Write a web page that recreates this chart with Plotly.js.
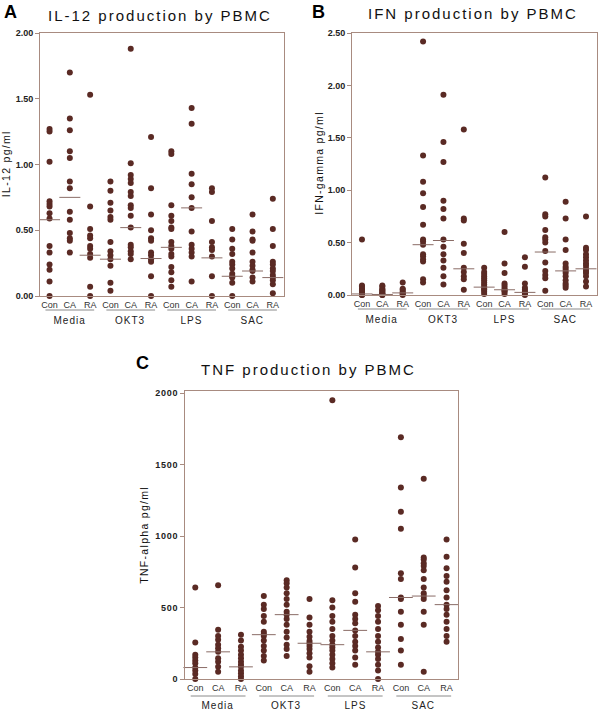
<!DOCTYPE html>
<html><head><meta charset="utf-8">
<script src="https://cdn.plot.ly/plotly-3.0.1.min.js"></script>
<style>
body{margin:0;background:#fff}
#chart{width:600px;height:710px}
g.annotation text{letter-spacing:1px}
g.annotation[data-index="0"] text,g.annotation[data-index="1"] text,g.annotation[data-index="2"] text{letter-spacing:2px}
g.annotation[data-index="3"] text,g.annotation[data-index="4"] text,g.annotation[data-index="5"] text{letter-spacing:0}
g.annotation[data-index="6"] text,g.annotation[data-index="7"] text,g.annotation[data-index="8"] text{letter-spacing:1.3px}
.y3tick text{letter-spacing:.7px}
</style></head><body><div id="chart"></div><script>
// ---------- data ----------
const categories = ['Con', 'CA', 'RA'];
const groups = ['Media', 'OKT3', 'LPS', 'SAC'];

// IL-12 (pg/ml), each group: [Con, CA, RA]
const il12Media = [
  [1.27,1.25,1.02,0.72,0.70,0.68,0.63,0.59,0.38,0.33,0.24,0.20,0.11,0.00],
  [1.70,1.35,1.26,1.10,1.05,0.87,0.82,0.64,0.58,0.48,0.44,0.42,0.33],
  [1.53,0.68,0.51,0.46,0.44,0.38,0.36,0.32,0.29,0.07,0.00]
];
const il12OKT3 = [
  [0.87,0.80,0.71,0.65,0.60,0.58,0.41,0.34,0.31,0.28,0.23,0.10,0.04],
  [1.88,1.01,0.92,0.89,0.86,0.79,0.76,0.69,0.67,0.61,0.52,0.39,0.37,0.34,0.32,0.28],
  [1.21,0.82,0.62,0.50,0.44,0.42,0.33,0.31,0.28,0.26,0.15,0.00]
];
const il12LPS = [
  [1.10,1.08,0.69,0.61,0.57,0.52,0.51,0.41,0.38,0.36,0.32,0.30,0.22,0.18,0.12,0.07],
  [1.43,1.31,0.93,0.85,0.75,0.67,0.49,0.39,0.36,0.33,0.30,0.11],
  [0.82,0.79,0.57,0.41,0.37,0.35,0.30,0.15,0.00]
];
const il12SAC = [
  [0.51,0.43,0.36,0.32,0.26,0.24,0.21,0.17,0.15,0.14,0.10,0.00],
  [0.62,0.49,0.43,0.42,0.33,0.26,0.23,0.20,0.19,0.14,0.11],
  [0.74,0.51,0.38,0.26,0.24,0.21,0.19,0.16,0.14,0.12,0.09,0.02]
];
const il12Median = [0.58,0.75,0.31, 0.28,0.52,0.285, 0.37,0.67,0.29, 0.15,0.19,0.14];

// IFN-gamma (pg/ml)
const ifnMedia = [
  [0.53,0.09,0.08,0.06,0.05,0.04,0.03,0.02,0.01,0.01,0.00,0.00],
  [0.09,0.08,0.06,0.05,0.04,0.03,0.02,0.01,0.01,0.00,0.00],
  [0.12,0.06,0.05,0.03,0.02,0.01,0.00]
];
const ifnOKT3 = [
  [2.42,1.33,1.08,0.97,0.84,0.67,0.53,0.51,0.48,0.39,0.37,0.34,0.32,0.15,0.12],
  [1.91,1.46,1.27,0.90,0.82,0.73,0.53,0.46,0.39,0.33,0.26,0.18,0.10],
  [1.58,0.73,0.71,0.49,0.40,0.26,0.22,0.18,0.15,0.05]
];
const ifnLPS = [
  [0.26,0.22,0.20,0.18,0.16,0.14,0.12,0.10,0.08,0.06,0.05,0.03,0.01],
  [0.60,0.30,0.21,0.11,0.09,0.07,0.05,0.04,0.03,0.01],
  [0.36,0.27,0.11,0.07,0.05,0.03,0.02,0.01,0.00]
];
const ifnSAC = [
  [1.12,0.77,0.75,0.62,0.55,0.53,0.50,0.42,0.31,0.23,0.19,0.16,0.04],
  [0.89,0.73,0.53,0.43,0.30,0.27,0.25,0.23,0.21,0.18,0.14,0.11,0.09,0.07],
  [0.75,0.45,0.43,0.39,0.36,0.33,0.30,0.28,0.25,0.23,0.21,0.18,0.13,0.08]
];
const ifnMedian = [0.01,0.005,0.02, 0.48,0.52,0.25, 0.075,0.05,0.025, 0.41,0.23,0.25];

// TNF-alpha (pg/ml)
const tnfMedia = [
  [640,255,170,150,130,110,80,60,35,0],
  [655,345,300,275,240,215,190,145,120,85,50],
  [310,270,225,200,170,145,120,100,85,60,40,20,0]
];
const tnfOKT3 = [
  [580,520,490,440,400,330,315,300,270,230,200,160,130],
  [690,670,640,600,560,520,470,450,420,380,330,290,240,210,160],
  [560,430,380,330,295,265,250,230,210,180,150,90,50]
];
const tnfLPS = [
  [1950,550,500,440,400,350,300,270,240,220,200,170,140,110,80],
  [975,780,600,540,450,420,390,340,300,260,230,200,150,100],
  [510,480,440,400,350,300,260,220,190,170,140,100,60,0]
];
const tnfSAC = [
  [1690,1340,1170,1050,740,700,570,560,470,380,280,200,100],
  [1400,850,835,810,790,760,700,640,600,580,560,470,380,50],
  [975,855,775,720,680,620,570,520,490,450,400,350,300,260]
];
const tnfMedian = [80,190,85, 310,450,250, 240,340,190, 570,580,520];

const titles = ['IL-12 production by PBMC', 'IFN production by PBMC', 'TNF production by PBMC'];
const yTitles = ['IL-12 pg/ml', 'IFN-gamma pg/ml', 'TNF-alpha pg/ml'];
const panelLetters = ['A', 'B', 'C'];

// ---------- layout helpers ----------
const W = 600, H = 710;
const px = v => v / W;
const py = v => 1 - v / H;
const DOT = '#5a2a24';
const FRAME = '#a88b80';
const MED = '#8a6c66';
const FONT = 'Liberation Sans, Arial, Helvetica, sans-serif';

const panels = [
  {data:[il12Media, il12OKT3, il12LPS, il12SAC], med:il12Median, xd:[40,284], yd:[33,296],
   xr:[-0.47,11.55], yr:[0,2.0], tv:[0,0.5,1,1.5,2], tf:'.2f', medSize:15,
   title:[160,16], letter:[10,12], ytitle:[6,164], ul:310, gl:320},
  {data:[ifnMedia, ifnOKT3, ifnLPS, ifnSAC], med:ifnMedian, xd:[352,597], yd:[33,295],
   xr:[-0.49,11.54], yr:[0,2.5], tv:[0,0.5,1,1.5,2,2.5], tf:'.2f', medSize:15,
   title:[473,14], letter:[318,12], ytitle:[319,163], ul:309, gl:319},
  {data:[tnfMedia, tnfOKT3, tnfLPS, tnfSAC], med:tnfMedian, xd:[185,458], yd:[391,679],
   xr:[-0.45,11.5], yr:[0,2014], tv:[0,500,1000,1500,2000], tf:'d', medSize:17,
   title:[308,369], letter:[142,363], ytitle:[144,535], ul:696, gl:705}
];

const traces = [];
const layout = {
  width: W, height: H, margin:{l:0,r:0,t:0,b:0},
  paper_bgcolor:'#fff', plot_bgcolor:'#fff', showlegend:false,
  font:{family:FONT, color:'#222'},
  annotations:[], shapes:[]
};
const tickText = [];
groups.forEach(() => categories.forEach(c => tickText.push(c)));
const tickVals = tickText.map((_, i) => i);

panels.forEach((p, k) => {
  const sx = k === 0 ? '' : String(k + 1);
  const xs = [], ys = [];
  p.data.forEach((grp, g) => grp.forEach((col, c) => col.forEach(v => { xs.push(g * 3 + c); ys.push(v); })));
  traces.push({type:'scatter', mode:'markers', x:xs, y:ys, xaxis:'x'+sx, yaxis:'y'+sx,
    cliponaxis:false, hoverinfo:'y', marker:{color:DOT, size:6, line:{width:0}}});
  traces.push({type:'scatter', mode:'markers', x:tickVals, y:p.med, xaxis:'x'+sx, yaxis:'y'+sx,
    cliponaxis:false, hoverinfo:'y',
    marker:{symbol:'line-ew', size:p.medSize, color:MED, line:{color:MED, width:1}}});
  layout['xaxis'+sx] = {domain:[px(p.xd[0]), px(p.xd[1])], range:p.xr, anchor:'y'+sx,
    tickvals:tickVals, ticktext:tickText, ticks:'', showgrid:false, zeroline:false,
    showline:true, mirror:true, linecolor:FRAME, linewidth:1,
    tickfont:{size:9, color:'#333'}, fixedrange:true};
  layout['yaxis'+sx] = {domain:[py(p.yd[1]), py(p.yd[0])], range:p.yr, anchor:'x'+sx,
    tickvals:p.tv, tickformat:p.tf, ticks:'outside', ticklen:4, tickcolor:FRAME,
    showgrid:false, zeroline:false, showline:true, mirror:true, linecolor:FRAME, linewidth:1,
    tickfont:{size:9, color:'#222', weight:'bold'}, fixedrange:true};
});

// titles (0-2), letters (3-5), y titles (6-8), group labels (9+)
panels.forEach((p, k) => layout.annotations.push({text:titles[k], xref:'paper', yref:'paper',
  x:px(p.title[0]), y:py(p.title[1]), xanchor:'center', yanchor:'middle', showarrow:false,
  font:{size:15, color:'#111', family:FONT}}));
panels.forEach((p, k) => layout.annotations.push({text:panelLetters[k], xref:'paper', yref:'paper',
  x:px(p.letter[0]), y:py(p.letter[1]), xanchor:'center', yanchor:'middle', showarrow:false,
  font:{size:18, color:'#000', family:FONT, weight:'bold'}}));
panels.forEach((p, k) => layout.annotations.push({text:yTitles[k], xref:'paper', yref:'paper',
  x:px(p.ytitle[0]), y:py(p.ytitle[1]), xanchor:'center', yanchor:'middle', showarrow:false,
  textangle:-90, font:{size:10.5, color:'#111', family:FONT}}));
panels.forEach((p, k) => {
  const sx = k === 0 ? '' : String(k + 1);
  groups.forEach((g, gi) => {
    layout.annotations.push({text:g, xref:'x'+sx, yref:'paper', x:gi*3+1, y:py(p.gl),
      xanchor:'center', yanchor:'middle', showarrow:false, font:{size:10, color:'#222', family:FONT}});
    layout.shapes.push({type:'line', xref:'x'+sx, yref:'paper', x0:gi*3-0.2, x1:gi*3+2.2,
      y0:py(p.ul), y1:py(p.ul), line:{color:'#8a8a8a', width:1}});
  });
});

Plotly.newPlot('chart', traces, layout, {displayModeBar:false, staticPlot:true});
</script></body></html>
